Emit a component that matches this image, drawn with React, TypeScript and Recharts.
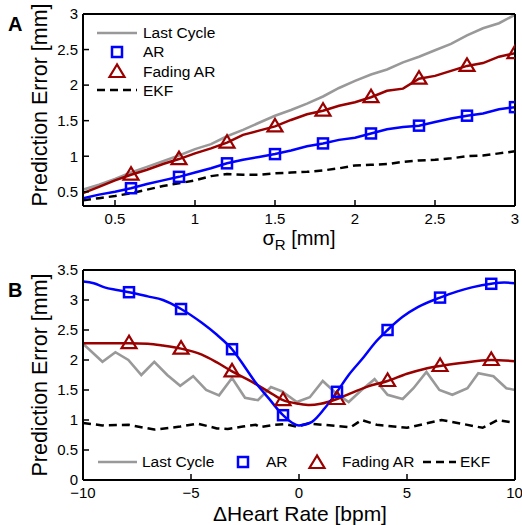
import React from "react";
import { LineChart, Line, XAxis, YAxis, Legend, Label } from "recharts";

const FONT = "'Liberation Sans', Arial, sans-serif";
const GRAY = "#999999";
const BLUE = "#0000ff";
const RED = "#990000";

// ---- panel A: error vs sigma_R ----
const sigmaR = [0.3, 0.4, 0.5, 0.6, 0.7, 0.8, 0.9, 1.0, 1.1, 1.2, 1.3, 1.4, 1.5, 1.6, 1.7, 1.8, 1.9, 2.0, 2.1, 2.2, 2.3, 2.4, 2.5, 2.6, 2.7, 2.8, 2.9, 3.0];
const lastCycleA = [0.53, 0.6, 0.68, 0.77, 0.85, 0.93, 1.01, 1.1, 1.17, 1.28, 1.37, 1.47, 1.57, 1.65, 1.74, 1.84, 1.96, 2.06, 2.15, 2.22, 2.32, 2.4, 2.49, 2.58, 2.7, 2.8, 2.87, 2.99];
const arA = [0.41, 0.46, 0.5, 0.55, 0.61, 0.66, 0.71, 0.77, 0.83, 0.9, 0.95, 0.99, 1.03, 1.08, 1.14, 1.18, 1.23, 1.26, 1.32, 1.38, 1.41, 1.43, 1.48, 1.53, 1.57, 1.6, 1.66, 1.69];
const fadingA = [0.48, 0.57, 0.66, 0.74, 0.81, 0.89, 0.96, 1.04, 1.11, 1.19, 1.3, 1.36, 1.42, 1.51, 1.59, 1.64, 1.71, 1.76, 1.83, 1.92, 1.95, 2.09, 2.13, 2.2, 2.27, 2.31, 2.4, 2.45];
const ekfA = [0.38, 0.41, 0.44, 0.48, 0.53, 0.58, 0.62, 0.66, 0.72, 0.75, 0.74, 0.74, 0.76, 0.77, 0.78, 0.8, 0.83, 0.87, 0.88, 0.89, 0.92, 0.94, 0.95, 0.97, 1.0, 1.01, 1.04, 1.07];
const markersA = [0.6, 0.9, 1.2, 1.5, 1.8, 2.1, 2.4, 2.7, 3.0];
const ticksA = [0.5, 1, 1.5, 2, 2.5, 3];

// ---- panel B: error vs heart rate change ----
const hrLast = [-10, -9.1, -8.5, -7.9, -7.3, -6.7, -6.1, -5.5, -4.9, -4.3, -3.7, -3.1, -2.5, -1.9, -1.3, -0.8, -0.1, 0.5, 1.1, 1.7, 2.3, 2.9, 3.5, 4.1, 4.8, 5.3, 5.9, 6.5, 7.1, 7.8, 8.3, 9.0, 9.6, 10];
const lastCycleB = [2.27, 1.97, 2.13, 2.0, 1.75, 1.97, 1.75, 1.57, 1.73, 1.5, 1.41, 1.7, 1.37, 1.33, 1.55, 1.48, 1.3, 1.38, 1.65, 1.45, 1.3, 1.5, 1.68, 1.42, 1.35, 1.53, 1.8, 1.5, 1.42, 1.53, 1.78, 1.73, 1.53, 1.5];
const hrAr = [-10, -9.5, -9, -8.5, -7.87, -7, -6.3, -5.46, -4.5, -3.8, -3.1, -2.5, -2, -1.4, -0.74, -0.3, 0, 0.6, 1.2, 1.76, 2.3, 3.0, 3.5, 4.1, 4.8, 5.5, 6.53, 7.3, 8.0, 8.9, 9.5, 10];
const arB = [3.31, 3.28, 3.21, 3.17, 3.13, 3.06, 3.0, 2.85, 2.62, 2.42, 2.18, 1.88, 1.62, 1.36, 1.08, 0.95, 0.91, 0.97, 1.2, 1.47, 1.75, 2.05, 2.28, 2.5, 2.72, 2.88, 3.04, 3.14, 3.21, 3.27, 3.29, 3.28];
const hrFading = [-10, -8.5, -7.87, -7, -6.3, -5.46, -4.5, -3.8, -3.1, -2.3, -1.4, -0.74, 0, 0.5, 1.0, 1.76, 2.5, 3.2, 4.1, 5, 5.8, 6.53, 7.5, 8.9, 10];
const fadingB = [2.28, 2.28, 2.28, 2.27, 2.24, 2.19, 2.09, 1.96, 1.81, 1.66, 1.47, 1.33, 1.27, 1.25, 1.27, 1.35, 1.46, 1.56, 1.65, 1.77, 1.85, 1.9, 1.95, 2.0, 1.98];
const hrEkf = [-10, -9.1, -7.9, -6.7, -5.5, -4.7, -3.8, -3.3, -2.6, -2.0, -1.8, -1.1, -0.6, -0.1, 0.4, 1.1, 2.4, 2.9, 3.6, 5.0, 6.6, 7.5, 8.5, 9.2, 10];
const ekfB = [0.95, 0.91, 0.92, 0.84, 0.89, 0.94, 0.86, 0.85, 0.89, 0.92, 0.88, 0.92, 0.93, 0.89, 0.94, 0.92, 0.88, 1.0, 0.92, 0.87, 1.0, 0.94, 0.87, 1.0, 0.95];
const markersB = [-7.87, -5.46, -3.1, -0.74, 1.76, 4.1, 6.53, 8.9];
const ticksBx = [-10, -5, 0, 5, 10];
const ticksBy = [0, 0.5, 1, 1.5, 2, 2.5, 3, 3.5];

const legendNames = ["Last Cycle", "AR", "Fading AR", "EKF"];

const panelA = sigmaR.map((s, i) => ({ s, last: lastCycleA[i], ar: arA[i], fading: fadingA[i], ekf: ekfA[i] }));
const zip = (xs: number[], ys: number[]) => xs.map((x, i) => ({ x, y: ys[i] }));
const lastB = zip(hrLast, lastCycleB);
const arLineB = zip(hrAr, arB);
const fadingLineB = zip(hrFading, fadingB);
const ekfLineB = zip(hrEkf, ekfB);

const Square = ({ cx, cy }: { cx: number; cy: number }) => (
  <rect x={cx - 5} y={cy - 5} width={10} height={10} fill="none" stroke={BLUE} strokeWidth={2.5} />
);
const Triangle = ({ cx, cy }: { cx: number; cy: number }) => (
  <polygon points={`${cx},${cy - 7.5} ${cx - 7.5},${cy + 5} ${cx + 7.5},${cy + 5}`} fill="none" stroke={RED} strokeWidth={2.2} />
);

// only draw a marker where x is in the marker list
const markerDot = (marks: number[], key: string, Shape: any) => (props: any) => {
  const { cx, cy, payload, index } = props;
  if (!marks.includes(payload[key])) return <g key={index} />;
  return <g key={index}><Shape cx={cx} cy={cy} /></g>;
};

const tickStyle = { fontSize: 15, fill: "#000", fontFamily: FONT };
const axisLine = { stroke: "#000", strokeWidth: 2 };
const tickLine = { stroke: "#000", strokeWidth: 1.5 };
const minus = (v: number) => String(v).replace("-", "\u2212");

const LegendA = () => (
  <svg width={200} height={90} style={{ fontFamily: FONT }}>
    <line x1={2} y1={9} x2={42} y2={9} stroke={GRAY} strokeWidth={2.5} />
    <Square cx={22} cy={28} />
    <Triangle cx={22} cy={48} />
    <line x1={2} y1={66} x2={42} y2={66} stroke="#000" strokeWidth={2.5} strokeDasharray="8 5" />
    {legendNames.map((n, i) => (
      <text key={n} x={48} y={14 + i * 19.3} fontSize={15.5} fill="#000">{n}</text>
    ))}
  </svg>
);

const LegendB = () => (
  <svg width={420} height={24} style={{ fontFamily: FONT }}>
    <line x1={0} y1={11} x2={39} y2={11} stroke={GRAY} strokeWidth={2.5} />
    <text x={44} y={16} fontSize={15.5}>{legendNames[0]}</text>
    <Square cx={145} cy={11} />
    <text x={168} y={16} fontSize={15.5}>{legendNames[1]}</text>
    <Triangle cx={219} cy={12} />
    <text x={244} y={16} fontSize={15.5}>{legendNames[2]}</text>
    <line x1={325} y1={11} x2={358} y2={11} stroke="#000" strokeWidth={2.5} strokeDasharray="8 5" />
    <text x={362} y={16} fontSize={15.5}>{legendNames[3]}</text>
  </svg>
);

const yLabel = (cy: number) => () => (
  <text x={0} y={0} transform={`translate(47, ${cy}) rotate(-90)`} textAnchor="middle" fontSize={21.5} fontFamily={FONT} fill="#000">
    Prediction Error [mm]
  </text>
);

export default function App() {
  return (
    <div style={{ position: "absolute", left: 0, top: 0, width: 522, height: 525, background: "#fff", fontFamily: FONT }}>
      <LineChart width={522} height={255} data={panelA} margin={{ top: 13, right: 6, left: 23, bottom: 0 }}>
        <XAxis dataKey="s" type="number" domain={[0.3, 3]} ticks={ticksA} allowDataOverflow
          tick={tickStyle} axisLine={axisLine} tickLine={tickLine} tickSize={-6} tickMargin={13} height={49}>
          <Label content={() => (
            <text x={299} y={245} textAnchor="middle" fontSize={20} fontFamily={FONT} fill="#000">
              <tspan>σ</tspan><tspan dy={5} fontSize={15}>R</tspan><tspan dy={-5}> [mm]</tspan>
            </text>
          )} />
        </XAxis>
        <XAxis xAxisId="top" orientation="top" type="number" domain={[0.3, 3]} ticks={ticksA} allowDataOverflow
          tick={false} axisLine={axisLine} tickLine={tickLine} tickSize={-6} height={1} />
        <YAxis type="number" domain={[0.3, 3]} ticks={ticksA} allowDataOverflow width={60}
          tick={tickStyle} axisLine={axisLine} tickLine={tickLine} tickSize={-6} tickMargin={11}>
          <Label content={yLabel(105)} />
        </YAxis>
        <YAxis yAxisId="right" orientation="right" type="number" domain={[0.3, 3]} ticks={ticksA} allowDataOverflow
          tick={false} axisLine={axisLine} tickLine={tickLine} tickSize={-6} width={1} />
        <Legend layout="horizontal" verticalAlign="middle" align="center"
          wrapperStyle={{ left: 95, top: 24, width: 200, height: 90 }} content={() => <LegendA />} />
        <Line dataKey="last" stroke={GRAY} strokeWidth={2.6} dot={false} isAnimationActive={false} />
        <Line dataKey="ekf" stroke="#000" strokeWidth={2.5} strokeDasharray="8 5" dot={false} isAnimationActive={false} />
        <Line dataKey="ar" stroke={BLUE} strokeWidth={2.5} dot={markerDot(markersA, "s", Square)} isAnimationActive={false} />
        <Line dataKey="fading" stroke={RED} strokeWidth={2.5} dot={markerDot(markersA, "s", Triangle)} isAnimationActive={false} />
        <text x={8} y={31} fontSize={20} fontWeight="bold" fontFamily={FONT}>A</text>
      </LineChart>

      <LineChart width={522} height={270} margin={{ top: 14, right: 6, left: 23, bottom: 0 }}>
        <XAxis dataKey="x" type="number" domain={[-10, 10]} ticks={ticksBx} allowDataOverflow tickFormatter={minus}
          tick={tickStyle} axisLine={axisLine} tickLine={tickLine} tickSize={-6} tickMargin={13} height={45}>
          <Label content={() => (
            <text x={300} y={266} textAnchor="middle" fontSize={21} fontFamily={FONT} fill="#000">ΔHeart Rate [bpm]</text>
          )} />
        </XAxis>
        <XAxis xAxisId="top" orientation="top" type="number" domain={[-10, 10]} ticks={ticksBx} allowDataOverflow
          tick={false} axisLine={axisLine} tickLine={tickLine} tickSize={-6} height={1} />
        <YAxis dataKey="y" type="number" domain={[0, 3.5]} ticks={ticksBy} allowDataOverflow width={60}
          tick={tickStyle} axisLine={axisLine} tickLine={tickLine} tickSize={-6} tickMargin={11}>
          <Label content={yLabel(120)} />
        </YAxis>
        <YAxis yAxisId="right" orientation="right" type="number" domain={[0, 3.5]} ticks={ticksBy} allowDataOverflow
          tick={false} axisLine={axisLine} tickLine={tickLine} tickSize={-6} width={1} />
        <Legend layout="horizontal" verticalAlign="middle" align="center"
          wrapperStyle={{ left: 98, top: 196, width: 420, height: 24 }} content={() => <LegendB />} />
        <Line data={lastB} dataKey="y" stroke={GRAY} strokeWidth={2.6} dot={false} isAnimationActive={false} />
        <Line data={ekfLineB} dataKey="y" stroke="#000" strokeWidth={2.5} strokeDasharray="8 5" dot={false} isAnimationActive={false} />
        <Line data={fadingLineB} dataKey="y" type="monotone" stroke={RED} strokeWidth={2.5} dot={markerDot(markersB, "x", Triangle)} isAnimationActive={false} />
        <Line data={arLineB} dataKey="y" type="monotone" stroke={BLUE} strokeWidth={2.5} dot={markerDot(markersB, "x", Square)} isAnimationActive={false} />
        <text x={8} y={42} fontSize={20} fontWeight="bold" fontFamily={FONT}>B</text>
      </LineChart>
    </div>
  );
}
